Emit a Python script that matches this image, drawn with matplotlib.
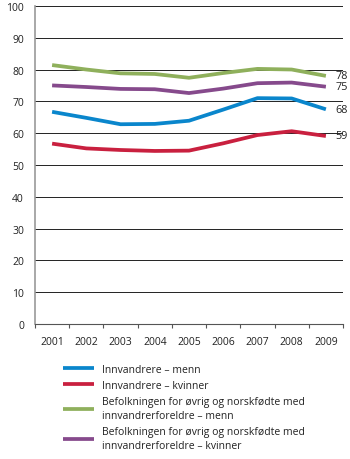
import numpy as np
import matplotlib.pyplot as plt

plt.rcParams['font.family'] = ['Open Sans', 'DejaVu Sans']

years = ['2001', '2002', '2003', '2004', '2005', '2006', '2007', '2008', '2009']
inn_menn = [66.7, 64.8, 62.8, 62.9, 63.9, 67.4, 71.0, 70.9, 67.5]
inn_kvinner = [56.7, 55.2, 54.7, 54.4, 54.5, 56.8, 59.4, 60.6, 59.1]
bef_menn = [81.4, 80.0, 78.8, 78.6, 77.4, 78.9, 80.2, 80.0, 78.0]
bef_kvinner = [75.0, 74.5, 73.9, 73.8, 72.6, 74.0, 75.7, 75.9, 74.6]
end_labels = ['68', '59', '78', '75']

names = ['Innvandrere – menn',
         'Innvandrere – kvinner',
         'Befolkningen for øvrig og norskfødte med\ninnvandrerforeldre – menn',
         'Befolkningen for øvrig og norskfødte med\ninnvandrerforeldre – kvinner']
colors = ['#0a86cc', '#c9203f', '#8fb05c', '#864a8c']
series = [inn_menn, inn_kvinner, bef_menn, bef_kvinner]

fig = plt.figure(figsize=(3.5, 4.6), dpi=100)
ax = fig.add_axes([0.1, 0.2935, 0.88, 0.6915])

x = np.arange(len(years))
lines = []
for s, c, n, lab in zip(series, colors, names, end_labels):
    l, = ax.plot(x, s, color=c, lw=2.7, label=n, solid_capstyle='butt', zorder=3)
    lines.append(l)
    ax.annotate(lab, (x[-1], s[-1]), xytext=(7, 0), textcoords='offset points',
                va='center', ha='left', fontsize=7.8, color='#222222', annotation_clip=False)

ax.set_xlim(-0.5, len(years) - 0.5)
ax.set_ylim(0, 100)
ax.set_yticks(range(0, 101, 10))
ax.yaxis.grid(True, color='#222222', lw=0.7)
ax.set_axisbelow(True)
ax.set_xticks(x)
ax.set_xticklabels(years)
ax.set_xticks(np.arange(-0.5, len(years)), minor=True)
ax.tick_params(axis='x', which='major', length=0, pad=9, labelsize=7.5, colors='#222222')
ax.tick_params(axis='x', which='minor', length=3, color='#555555', width=0.8)
ax.tick_params(axis='y', length=0, pad=8, labelsize=7.5, colors='#222222')
for sp in ['top', 'right']:
    ax.spines[sp].set_visible(False)
ax.spines['left'].set_color('#999999')
ax.spines['left'].set_linewidth(1.2)
ax.spines['bottom'].set_color('#555555')
ax.spines['bottom'].set_linewidth(0.8)

leg = fig.legend(handles=lines, loc='upper left', bbox_to_anchor=(0.165, 0.218),
                 frameon=False, fontsize=7.5, handlelength=3.0, handletextpad=0.7,
                 labelspacing=0.5, borderpad=0)
for t in leg.get_texts():
    t.set_linespacing(1.35)
    t.set_color('#222222')

fig.savefig('out.png', dpi=100)
